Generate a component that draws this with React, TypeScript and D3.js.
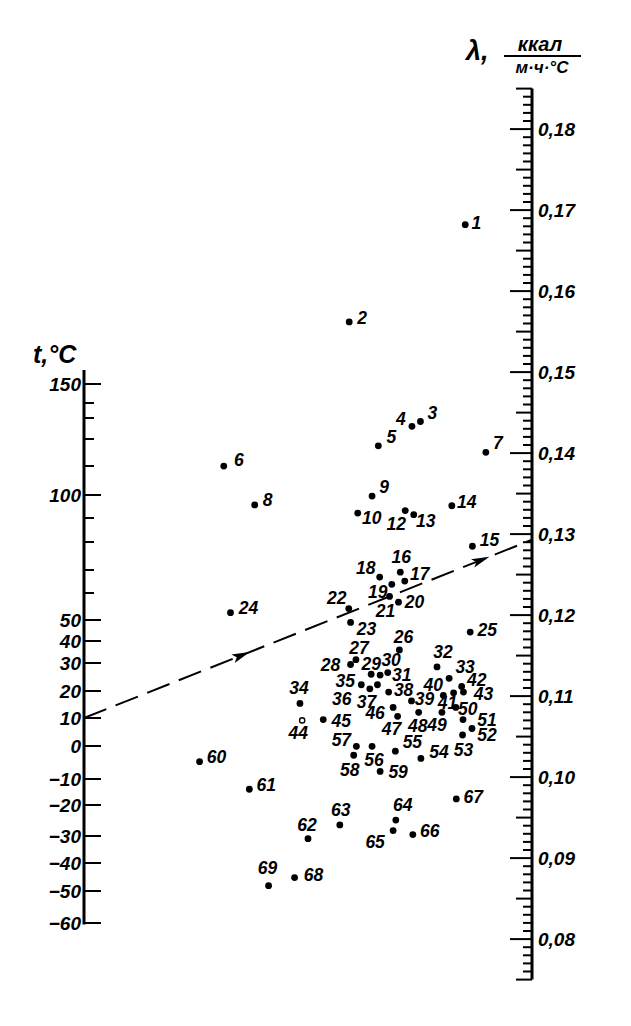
import React from "react";
import * as d3 from "d3";

// ---------- data ----------
// point numbers (11 is absent in the original)
const pointIds = [1,2,3,4,5,6,7,8,9,10,12,13,14,15,16,17,18,19,20,21,22,23,24,25,26,27,28,29,30,31,32,33,34,35,36,37,38,39,40,41,42,43,44,45,46,47,48,49,50,51,52,53,54,55,56,57,58,59,60,61,62,63,64,65,66,67,68,69];
// horizontal position of each point between the two scales, in % (0 = t-scale, 100 = λ-scale)
const pointAcross = [85.1,59.2,75.1,73.2,65.7,31.2,89.7,38.1,64.3,61.1,71.7,73.6,82.1,86.7,70.6,71.6,66.0,68.7,70.2,68.2,59.1,59.5,32.7,86.2,70.4,60.7,59.5,64.1,66.1,67.8,78.8,81.5,48.2,61.9,63.8,65.5,68.0,73.1,80.2,82.5,84.3,84.7,48.7,53.4,69.0,70.0,74.7,79.9,83.0,84.6,86.6,84.5,75.2,69.5,64.3,60.8,60.2,66.1,25.8,36.9,50.0,57.1,69.6,69.0,73.4,83.1,47.0,41.2];
// vertical position of each point, read against the λ-scale
const pointLambda = [0.1682,0.1562,0.1439,0.1433,0.1409,0.1384,0.1401,0.1336,0.1347,0.1326,0.1329,0.1324,0.1335,0.1285,0.1253,0.1242,0.1247,0.1238,0.1216,0.1223,0.1208,0.1191,0.1203,0.1179,0.1157,0.1145,0.1139,0.1127,0.1126,0.1129,0.1136,0.1122,0.1091,0.1114,0.1109,0.1114,0.1105,0.1094,0.1101,0.1104,0.1112,0.1105,0.1070,0.1071,0.1086,0.1075,0.1080,0.1080,0.1086,0.1071,0.1060,0.1052,0.1023,0.1032,0.1038,0.1038,0.1027,0.1007,0.1019,0.0985,0.0924,0.0941,0.0947,0.0934,0.0929,0.0973,0.0876,0.0866];
const openPoints = [44];

// t-scale
const tTicks = [150,140,130,120,110,100,90,80,70,60,50,40,30,20,10,0,-10,-20,-30,-40,-50,-60];
const tLabeled = [150,100,50,40,30,20,10,0,-10,-20,-30,-40,-50,-60];
// λ-scale
const lambdaLabels = [0.18,0.17,0.16,0.15,0.14,0.13,0.12,0.11,0.10,0.09,0.08];
const lambdaExtent = [0.075, 0.185];
// example key line: t = 10 °C  ->  λ
const keyT = 10;
const keyLambda = 0.1293;

// ---------- layout ----------
const W = 631, H = 1026;
const LEFT_X = 84, RIGHT_X = 532;
const T_TICK_Y = [384,403,418,439,466,495,518,542,570,593,620,641,663,691,718,746,779,805,836,863,891,923];
const labelOffset: Record<number, [number, number]> = {
  1:[11,-2],2:[13,-4],3:[12,-9],4:[-11,-8],5:[13,-9],6:[15,-6],7:[12,-10],8:[13,-5],9:[12,-9],10:[14,5],
  12:[-9,13],13:[12,6],14:[15,-4],15:[17,-7],16:[1,-15],17:[15,-7],18:[-14,-9],19:[-14,7],20:[16,0],
  21:[-4,14],22:[-12,-11],23:[16,6],24:[18,-5],25:[17,-2],26:[4,-13],27:[3,-12],28:[-20,0],29:[0,-11],
  30:[11,-15],31:[14,2],32:[6,-15],33:[16,-12],34:[-1,-16],35:[-16,-4],36:[-28,10],37:[-11,17],38:[15,-2],
  39:[13,-2],40:[-10,-11],41:[-6,10],42:[15,-7],43:[20,2],44:[-4,12],45:[18,1],46:[-18,5],47:[-6,12],
  48:[-1,13],49:[-5,12],50:[12,1],51:[24,0],52:[15,6],53:[1,15],54:[18,-7],55:[17,-9],56:[2,13],
  57:[-15,-7],58:[-4,14],59:[18,0],60:[17,-5],61:[17,-5],62:[-1,-14],63:[1,-15],64:[7,-15],65:[-18,11],
  66:[17,-4],67:[17,-2],68:[19,-3],69:[-1,-18],
};
const FONT = "'Liberation Sans', Arial, sans-serif";

export default function App() {
  const tScale = d3.scaleLinear().domain(tTicks).range(T_TICK_Y);
  const lScale = d3.scaleLinear().domain([0.08, 0.18]).range([939.1, 129.1]);
  const xScale = d3.scaleLinear().domain([0, 100]).range([LEFT_X, RIGHT_X]);

  const fmtL = (v: number) => d3.format(".2f")(v).replace(".", ",");
  const fmtT = (v: number) => (v < 0 ? "\u2212" + Math.abs(v) : String(v));

  // λ ticks every 0.001
  const lMinor = d3.range(Math.round(lambdaExtent[0] * 1000), Math.round(lambdaExtent[1] * 1000) + 1);

  // key line
  const A = { x: LEFT_X, y: tScale(keyT) };
  const B = { x: RIGHT_X, y: lScale(keyLambda) };
  const len = Math.hypot(B.x - A.x, B.y - A.y);
  const ux = (B.x - A.x) / len, uy = (B.y - A.y) / len;
  const arrowAt = [0.37, 0.905];
  const arrows = arrowAt.map((f) => {
    const px = A.x + (B.x - A.x) * f, py = A.y + (B.y - A.y) * f;
    const L = 18, w = 4.5;
    const bx = px - ux * L, by = py - uy * L;
    return `M${px},${py} L${bx - uy * w},${by + ux * w} L${bx + ux * 4},${by + uy * 4} L${bx + uy * w},${by - ux * w} Z`;
  });

  return (
    <svg width={W} height={H} style={{ position: "absolute", left: 0, top: 0, background: "#fff" }}
      fontFamily={FONT}>
      <rect width={W} height={H} fill="#fff" />

      {/* t-scale */}
      <line x1={LEFT_X} x2={LEFT_X} y1={370} y2={tScale(-60) + 1.5} stroke="#000" strokeWidth={3} />
      {tTicks.map((t) => {
        const major = tLabeled.includes(t);
        return (
          <line key={"tt" + t} x1={LEFT_X} x2={LEFT_X + (major ? 17 : 10)} y1={tScale(t)} y2={tScale(t)}
            stroke="#000" strokeWidth={2} />
        );
      })}
      {tLabeled.map((t) => (
        <text key={"tl" + t} x={LEFT_X - 3} y={tScale(t)} dy="0.36em" textAnchor="end" fontSize={19}
          fontStyle="italic" fontWeight="bold">{fmtT(t)}</text>
      ))}
      <text x={33} y={363} fontSize={25} fontStyle="italic" fontWeight="bold">t,°C</text>

      {/* λ-scale */}
      <line x1={RIGHT_X} x2={RIGHT_X} y1={lScale(lambdaExtent[1])} y2={lScale(lambdaExtent[0])}
        stroke="#000" strokeWidth={3} />
      {lMinor.map((k) => {
        const len2 = k % 10 === 0 ? 22 : k % 5 === 0 ? 16 : 9;
        const y = lScale(k / 1000);
        return <line key={"lm" + k} x1={RIGHT_X - len2} x2={RIGHT_X} y1={y} y2={y} stroke="#000" strokeWidth={2} />;
      })}
      {lambdaLabels.map((v) => (
        <text key={"ll" + v} x={RIGHT_X + 6} y={lScale(v)} dy="0.36em" fontSize={19} fontStyle="italic"
          fontWeight="bold">{fmtL(v)}</text>
      ))}
      <text x={466} y={60} fontSize={27} fontStyle="italic" fontWeight="bold">λ,</text>
      <text x={540} y={51} textAnchor="middle" fontSize={20} fontStyle="italic" fontWeight="bold">ккал</text>
      <line x1={504} x2={581} y1={56} y2={56} stroke="#000" strokeWidth={1.8} />
      <text x={542} y={73} textAnchor="middle" fontSize={17} fontStyle="italic" fontWeight="bold">м·ч·°С</text>

      {/* key line */}
      <line x1={A.x} y1={A.y} x2={B.x} y2={B.y} stroke="#000" strokeWidth={2} strokeDasharray="24 10" />
      {arrows.map((d, i) => <path key={"ar" + i} d={d} fill="#000" />)}

      {/* points */}
      {pointIds.map((id, i) => {
        const cx = xScale(pointAcross[i]);
        const cy = lScale(pointLambda[i]);
        const open = openPoints.includes(id);
        const [dx, dy] = labelOffset[id] || [14, -4];
        return (
          <g key={"p" + id}>
            {open ? (
              <circle cx={cx} cy={cy} r={2.6} fill="#fff" stroke="#000" strokeWidth={1.4} />
            ) : (
              <circle cx={cx} cy={cy} r={3.4} fill="#000" />
            )}
            <text x={cx + dx} y={cy + dy} dy="0.36em" textAnchor="middle" fontSize={17.5} fontStyle="italic"
              fontWeight="bold">{id}</text>
          </g>
        );
      })}
    </svg>
  );
}
